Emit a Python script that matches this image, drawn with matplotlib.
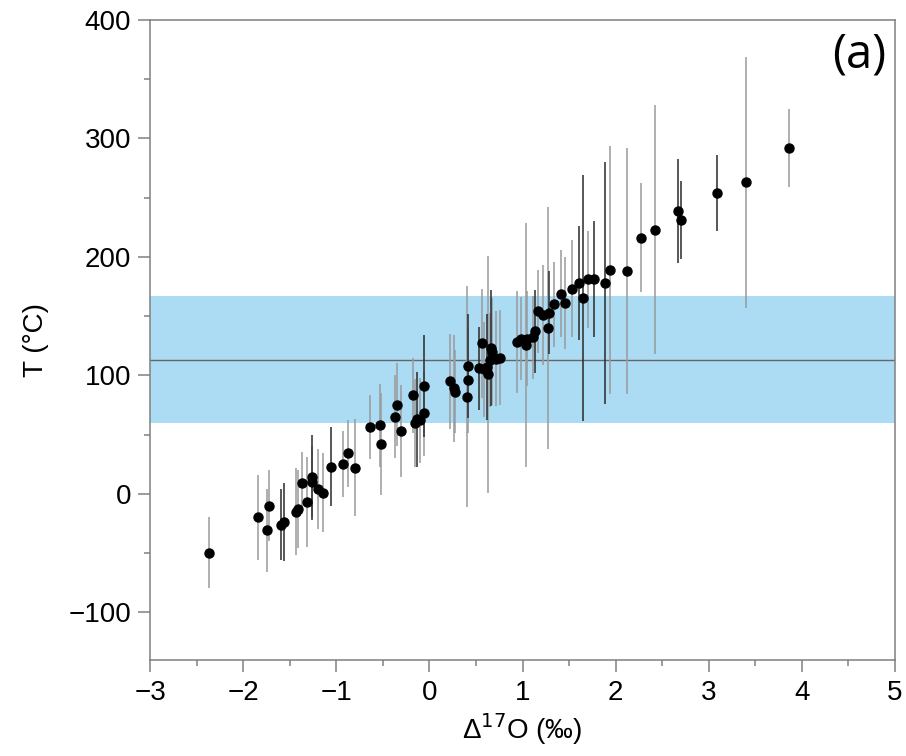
import matplotlib
matplotlib.use('Agg')
import matplotlib.pyplot as plt
import numpy as np
from matplotlib.ticker import MultipleLocator

plt.rcParams['font.family'] = ['Liberation Sans', 'DejaVu Sans']

# D17O (permil), T (degC), half error on T, bar shade (0 = grey, 1 = dark)
d17o = [-2.37, -1.845, -1.727, -1.745, -1.59, -1.56, -1.437, -1.41, -1.366, -1.315,
        -1.26, -1.265, -1.197, -1.144, -1.055, -0.926, -0.876, -0.804, -0.636, -0.53,
        -0.525, -0.368, -0.343, -0.304, -0.175, -0.153, -0.132, -0.103, -0.06, -0.053,
        0.219, 0.262, 0.276, 0.404, 0.412, 0.415, 0.53, 0.566, 0.584, 0.62,
        0.634, 0.662, 0.67, 0.648, 0.72, 0.755, 0.945, 0.987, 1.034, 1.05,
        1.11, 1.134, 1.17, 1.224, 1.28, 1.274, 1.34, 1.418, 1.46, 1.53,
        1.606, 1.652, 1.70, 1.763, 1.885, 1.935, 2.118, 2.275, 2.426, 2.672,
        2.704, 3.088, 3.395, 3.86]
temp = [-50, -20, -10, -31, -26, -24, -15, -13, 9, -7,
        14, 10, 4, 1, 23, 25, 34, 22, 56, 58,
        42, 65, 75, 53, 83, 60, 63, 62, 91, 68,
        95, 89, 86, 82, 96, 108, 106, 127, 105, 107,
        101, 123, 120, 113, 114, 115, 128, 131, 126, 131,
        132, 137, 154, 151, 153, 140, 160, 169, 161, 173,
        178, 165, 181, 181, 178, 189, 188, 216, 223, 239,
        231, 254, 263, 292]
terr = [30, 36, 30, 35, 30, 33, 37, 33, 26, 38,
        36, 30, 34, 33, 33, 28, 28, 41, 27, 35,
        43, 35, 35, 39, 32, 37, 40, 36, 43, 36,
        40, 45, 35, 93, 45, 44, 35, 46, 40, 45,
        100, 49, 45, 40, 40, 40, 43, 35, 103, 40,
        35, 35, 35, 42, 35, 102, 36, 37, 39, 41,
        48, 104, 41, 49, 102, 105, 104, 46, 105, 44,
        33, 32, 106, 33]
shade = [0, 0, 0, 0, 1, 1, 0, 0, 0, 0,
         1, 0, 0, 0, 1, 0, 0, 0, 0, 0,
         0, 0, 0, 0, 0, 0, 1, 0, 1, 0,
         0, 0, 0, 0, 0, 1, 1, 0, 0, 1,
         0, 1, 0, 0, 0, 0, 0, 0, 0, 0,
         0, 1, 0, 0, 1, 0, 0, 0, 0, 0,
         1, 1, 0, 1, 1, 0, 0, 0, 0, 1,
         1, 1, 0, 0]

band_lo, band_hi, band_mid = 60, 167, 113

fig = plt.figure(figsize=(9.06, 7.56), dpi=100)
ax = fig.add_axes([0.1656, 0.1276, 0.8223, 0.8459])

ax.axhspan(band_lo, band_hi, color='#abdcf3', lw=0, zorder=0)
ax.axhline(band_mid, color='#666666', lw=1.0, zorder=1)

x = np.array(d17o)
y = np.array(temp)
e = np.array(terr)
s = np.array(shade)
for k, col in [(0, '#9a9a9a'), (1, '#2a2a2a')]:
    m = s == k
    ax.errorbar(x[m], y[m], yerr=e[m], fmt='none', ecolor=col, elinewidth=1.1,
                capsize=0, zorder=2)
ax.plot(x, y, 'o', color='black', ms=6.5, zorder=3)

ax.set_xlim(-3, 5)
ax.set_ylim(-140, 400)
ax.xaxis.set_major_locator(MultipleLocator(1))
ax.xaxis.set_minor_locator(MultipleLocator(0.5))
ax.yaxis.set_minor_locator(MultipleLocator(50))
ax.set_yticks([-100, 0, 100, 200, 300, 400])

for sp in ax.spines.values():
    sp.set_color('#808080')
    sp.set_linewidth(1.1)
ax.tick_params(which='major', direction='out', length=8.6, width=1.1, color='#808080',
               labelsize=20)
ax.tick_params(axis='x', which='major', pad=6)
ax.tick_params(axis='y', which='major', pad=5)
ax.tick_params(which='minor', direction='out', length=4.3, width=1.1, color='#808080')

ax.set_xlabel('Δ$^{17}$O (‰)', fontsize=20, labelpad=4)
ax.set_ylabel('T (°C)', fontsize=20, labelpad=14)
ax.annotate('(a)', xy=(1, 1), xycoords='axes fraction', xytext=(-6, -8),
            textcoords='offset points', ha='right', va='top', fontsize=34,
            family='Open Sans')

fig.savefig('out.png', dpi=100)
